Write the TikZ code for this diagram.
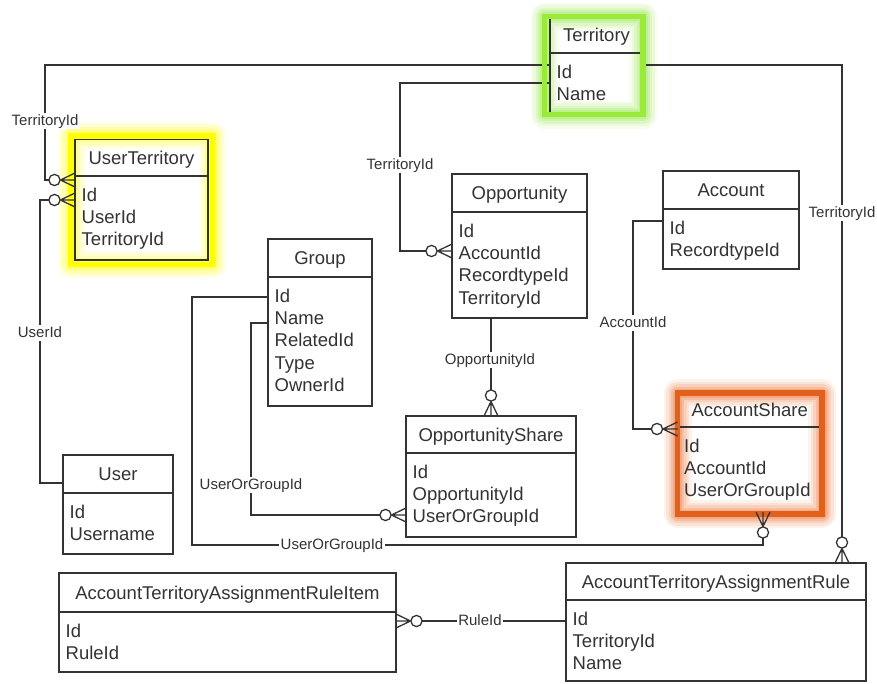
\documentclass[tikz,border=0pt]{standalone}
\usepackage{fontspec}
\setmainfont{Liberation Sans}
\definecolor{ink}{HTML}{333333}
\definecolor{limeline}{HTML}{9BEA3A}
\definecolor{limeglow}{HTML}{A8EE68}
\definecolor{hiyellow}{HTML}{FFFF00}
\definecolor{yellowglow}{HTML}{FFFF40}
\definecolor{ashorange}{HTML}{E0601C}
\definecolor{orangeglow}{HTML}{F28A55}

\tikzset{
  eline/.style={draw=ink, line width=1.3pt},
  ebox/.style={eline, rectangle, inner sep=0pt, outer sep=0pt},
  etitle/.style={font=\fontsize{18.5}{22}\selectfont, text=ink, inner sep=0pt,
                 text height=13pt, text depth=0pt},
  efield/.style={etitle, anchor=west},
  conn/.style={eline, line join=miter},
  rlabel/.style={font=\fontsize{15}{18}\selectfont, text=ink, fill=white,
                 inner sep=1.5pt, text height=11pt, text depth=2pt},
  % zero-or-many end: circle plus crow's foot, box edge at the origin,
  % line arriving from the negative x side
  zmany/.pic={
    \draw[eline] (-20.5pt,0) circle (5.6pt);
    \draw[eline] (-14.5pt,0) -- (0,7pt) (-14.5pt,0) -- (0,0) (-14.5pt,0) -- (0,-7pt);
  }
}

% soft halo around a highlighted entity
\newcommand\haloframe[3]{% glow colour, corner, corner
  \foreach \w/\o in {28/0.10, 23/0.14, 18/0.2, 13/0.28, 9/0.4}
    \draw[#1, line width=\w pt, opacity=\o, line join=round] #2 rectangle #3;
}
\newcommand\solidframe[3]{\draw[#1, line width=5.5pt] #2 rectangle #3;}

% entity: name, left, top, right, header rule, bottom, title, fields
\newcommand\erentity[8]{%
  \node[ebox, minimum width={(#4-#2)*1pt}, minimum height={(#6-#3)*1pt}]
    (#1) at ({(#2+#4)/2},{(#3+#6)/2}) {};
  \draw[eline] (#1.west |- 0,#5) -- (#1.east |- 0,#5);
  \node[etitle] (#1-t) at ({(#2+#4)/2},{(#3+#5)/2}) {#7};
  \foreach \f [count=\i] in {#8}
    {\node[efield] (#1-\i) at ({#2+6.5},{#5+18.5+(\i-1)*22.4}) {\f};}
}

\begin{document}
\begin{tikzpicture}[x=1pt, y=-1pt]
\useasboundingbox[fill=white] (0,0) rectangle (877,683);

% halos behind the highlighted tables
\haloframe{limeglow}{(544.5,16.5)}{(643,114.5)}
\haloframe{yellowglow}{(71,135.8)}{(212.5,264.7)}
\haloframe{orangeglow}{(677.5,393)}{(822,514)}

% tables
\erentity{terr}{550}{16.5}{643}{53}{114.5}{Territory}{Id,Name}
\erentity{ut}{75}{139}{208}{176}{260}{UserTerritory}{Id,UserId,TerritoryId}
\erentity{usr}{63}{455}{173}{493}{554}{User}{Id,Username}
\erentity{grp}{268}{239}{372}{277}{406}{Group}{Id,Name,RelatedId,Type,OwnerId}
\erentity{opp}{452}{174}{587}{212}{318}{Opportunity}{Id,AccountId,RecordtypeId,TerritoryId}
\erentity{osh}{406}{416}{576}{453}{537}{OpportunityShare}{Id,OpportunityId,UserOrGroupId}
\erentity{acc}{663}{171}{799}{209}{269}{Account}{Id,RecordtypeId}
\erentity{ash}{677.5}{393}{822}{427}{512}{AccountShare}{Id,AccountId,UserOrGroupId}
\erentity{atar}{566}{563}{866}{600}{681}{AccountTerritoryAssignmentRule}{Id,TerritoryId,Name}
\erentity{atari}{59}{573}{396}{612}{672}{AccountTerritoryAssignmentRuleItem}{Id,RuleId}

% attachment points on the "many" side
\coordinate (utT)    at (ut.west |- 0,180);
\coordinate (utU)    at (ut.west |- 0,200);
\coordinate (oppT)   at (opp.west |- 0,251);
\coordinate (oshG)   at (osh.west |- 0,515);
\coordinate (ashA)   at (ash.west |- 0,429);
\coordinate (ashG)   at (ash.south -| 763,0);
\coordinate (atarT)  at (atar.north -| 842,0);
\coordinate (atariR) at (atari.east |- 0,621);

% relationships
\draw[conn] (terr.west |- 0,65) -| (45,180) -- ([xshift=-26pt]utT);
\draw[conn] (usr.west |- 0,483) -| (40,200) -- ([xshift=-26pt]utU);
\draw[conn] (terr.west |- 0,83) -| (400,251) -- ([xshift=-26pt]oppT);
\draw[conn] (opp.south -| osh.north) -- ([yshift=26pt]osh.north);
\draw[conn] (acc.west |- 0,221) -| (633,429) -- ([xshift=-26pt]ashA);
\draw[conn] (grp.west |- 0,297) -| (192,545) -| ([yshift=-26pt]ashG);
\draw[conn] (grp.west |- 0,323) -| (251,515) -- ([xshift=-26pt]oshG);
\draw[conn] (terr.east |- 0,65) -| ([yshift=26pt]atarT);
\draw[conn] (atar.west |- 0,621) -- ([xshift=26pt]atariR);

% relationship labels
\node[rlabel] (lbTU)  at (45,121)  {TerritoryId};
\node[rlabel] (lbUU)  at (40,333)  {UserId};
\node[rlabel] (lbTO)  at (400,165) {TerritoryId};
\node[rlabel] (lbOO)  at (490,360) {OpportunityId};
\node[rlabel] (lbAA)  at (633,323) {AccountId};
\node[rlabel] (lbTA)  at (842,213) {TerritoryId};
\node[rlabel] (lbGO)  at (251,485) {UserOrGroupId};
\node[rlabel] (lbGA)  at (332,545) {UserOrGroupId};
\node[rlabel] (lbRR)  at (480,621) {RuleId};

% solid highlight frames
\solidframe{limeline}{(544.5,16.5)}{(643,114.5)}
\solidframe{hiyellow}{(71,135.8)}{(212.5,264.7)}
\solidframe{ashorange}{(677.5,393)}{(822,514)}

% relationship ends
\path (utT) pic {zmany};
\path (utU) pic {zmany};
\path (oppT) pic {zmany};
\path (oshG) pic {zmany};
\path (ashA) pic {zmany};
\path (osh.north) pic[rotate=-90] {zmany};
\path (ashG) pic[rotate=90] {zmany};
\path (atarT) pic[rotate=-90] {zmany};
\path (atariR) pic[rotate=180] {zmany};
\end{tikzpicture}
\end{document}
